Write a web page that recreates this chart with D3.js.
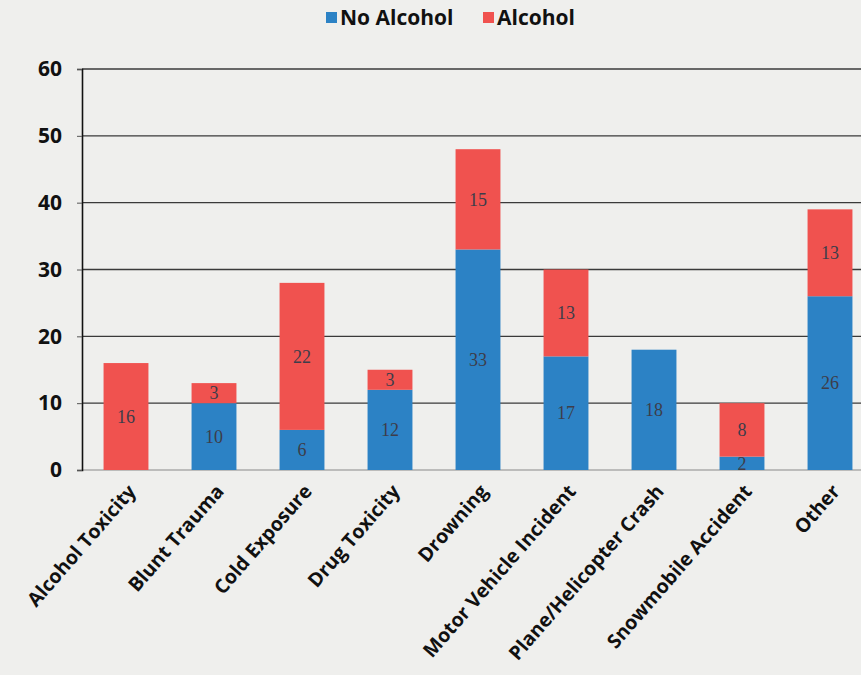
<!DOCTYPE html>
<html>
<head>
<meta charset="utf-8">
<script src="https://cdn.jsdelivr.net/npm/d3@7"></script>
<style>
  html, body { margin: 0; padding: 0; background: #efefed; }
  svg { display: block; }
</style>
</head>
<body>
<svg id="chart" width="861" height="675"></svg>
<script>
// Deaths by cause, split by alcohol involvement
const categories = [
  "Alcohol Toxicity", "Blunt Trauma", "Cold Exposure", "Drug Toxicity",
  "Drowning", "Motor Vehicle Incident", "Plane/Helicopter Crash",
  "Snowmobile Accident", "Other"
];
const noAlcohol = [0, 10, 6, 12, 33, 17, 18, 2, 26];
const alcohol   = [16, 3, 22, 3, 15, 13, 0, 8, 13];
const seriesNames = ["No Alcohol", "Alcohol"];
const yTicks = [0, 10, 20, 30, 40, 50, 60];

const colors = { "No Alcohol": "#2c82c5", "Alcohol": "#f0524f" };

const svg = d3.select("#chart");
const margin = { left: 82, top: 69, bottom: 470 };

const x = d3.scaleBand()
  .domain(categories)
  .range([margin.left, margin.left + 88 * categories.length])
  .paddingInner(0.49)
  .paddingOuter(0.245);

const y = d3.scaleLinear().domain([0, 60]).range([margin.bottom, margin.top]);

// Horizontal gridlines
svg.append("g")
  .selectAll("line")
  .data(yTicks.filter(d => d > 0))
  .join("line")
  .attr("x1", margin.left).attr("x2", 861)
  .attr("y1", d => y(d)).attr("y2", d => y(d))
  .attr("stroke", "#3a3a3a")
  .attr("stroke-width", 1.4);

// Baseline
svg.append("line")
  .attr("x1", margin.left).attr("x2", 861)
  .attr("y1", y(0)).attr("y2", y(0))
  .attr("stroke", "#8a8a8a").attr("stroke-width", 1.2);

// Stacked data
const rows = categories.map((c, i) => ({ cat: c, "No Alcohol": noAlcohol[i], "Alcohol": alcohol[i] }));
const stacked = d3.stack().keys(seriesNames)(rows);

const layers = svg.append("g")
  .selectAll("g")
  .data(stacked)
  .join("g")
  .attr("fill", d => colors[d.key]);

layers.selectAll("rect")
  .data(d => d.filter(s => s[1] - s[0] > 0))
  .join("rect")
  .attr("x", d => x(d.data.cat))
  .attr("width", x.bandwidth())
  .attr("y", d => y(d[1]))
  .attr("height", d => y(d[0]) - y(d[1]));

// Value labels inside segments
stacked.forEach(layer => {
  svg.append("g")
    .selectAll("text")
    .data(layer.filter(s => s[1] - s[0] > 0))
    .join("text")
    .attr("x", d => x(d.data.cat) + x.bandwidth() / 2)
    .attr("y", d => (y(d[0]) + y(d[1])) / 2)
    .attr("dy", "0.35em")
    .attr("text-anchor", "middle")
    .attr("font-family", "'Liberation Serif', 'DejaVu Serif', serif")
    .attr("font-size", 18)
    .attr("fill", "#3d3d4a")
    .text(d => d[1] - d[0]);
});

// Y axis
const yAxis = d3.axisLeft(y).tickValues(yTicks).tickSize(5).tickPadding(15);
const gy = svg.append("g").attr("transform", `translate(${margin.left},0)`).call(yAxis);
gy.select(".domain").attr("stroke", "#111").attr("stroke-width", 1.6);
gy.selectAll(".tick line").attr("stroke", "#555");
gy.selectAll(".tick text")
  .attr("font-family", "'Open Sans', 'Noto Sans', sans-serif")
  .attr("font-weight", "bold")
  .attr("font-size", 21)
  .attr("fill", "#111");

// X axis labels, rotated
const xAxis = d3.axisBottom(x).tickSize(0).tickPadding(0);
const gx = svg.append("g").attr("transform", `translate(0,${margin.bottom})`).call(xAxis);
gx.select(".domain").remove();
gx.selectAll(".tick text")
  .attr("font-family", "'Open Sans', 'Noto Sans', sans-serif")
  .attr("font-weight", "bold")
  .attr("font-size", 19.5)
  .attr("fill", "#111")
  .attr("text-anchor", "end")
  .attr("dy", "0")
  .attr("transform", "translate(11,22) rotate(-49)");

// Legend
const legend = svg.append("g").attr("font-family", "'Open Sans', 'Noto Sans', sans-serif");
const legendItems = [
  { key: "No Alcohol", x: 326 },
  { key: "Alcohol", x: 483 }
];
legendItems.forEach(it => {
  legend.append("rect")
    .attr("x", it.x).attr("y", 12)
    .attr("width", 11).attr("height", 11)
    .attr("fill", colors[it.key]);
  legend.append("text")
    .attr("x", it.x + 14).attr("y", 18)
    .attr("dy", "0.35em")
    .attr("font-weight", "bold")
    .attr("font-size", 21)
    .attr("fill", "#111")
    .text(it.key);
});
</script>
</body>
</html>
